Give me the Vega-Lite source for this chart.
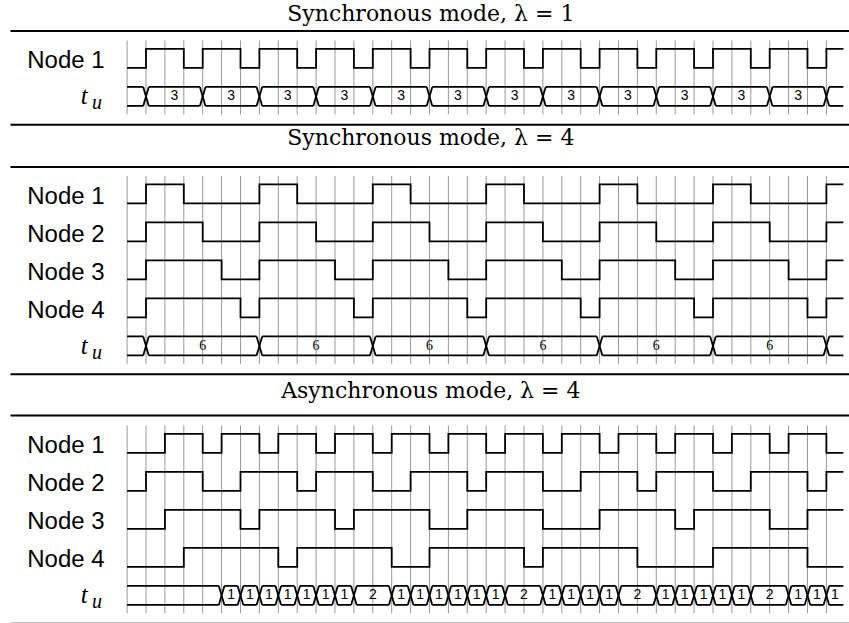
{
  "$schema": "https://vega.github.io/schema/vega-lite/v6.json",
  "padding": {"left": 9.1, "top": 2.4, "right": 0, "bottom": 0},
  "bounds": "flush",
  "spacing": 61.5,
  "config": {"view": {"stroke": null}},
  "datasets": {
    "ticks": [{"t":0},{"t":1},{"t":2},{"t":3},{"t":4},{"t":5},{"t":6},{"t":7},{"t":8},{"t":9},{"t":10},{"t":11},{"t":12},{"t":13},{"t":14},{"t":15},{"t":16},{"t":17},{"t":18},{"t":19},{"t":20},{"t":21},{"t":22},{"t":23},{"t":24},{"t":25},{"t":26},{"t":27},{"t":28},{"t":29},{"t":30},{"t":31},{"t":32},{"t":33},{"t":34},{"t":35},{"t":36},{"t":37}],
    "signals": [
      {"panel":"A","sig":"Node 1","t":0,"v":0},{"panel":"A","sig":"Node 1","t":1,"v":1},{"panel":"A","sig":"Node 1","t":3,"v":0},{"panel":"A","sig":"Node 1","t":4,"v":1},{"panel":"A","sig":"Node 1","t":6,"v":0},{"panel":"A","sig":"Node 1","t":7,"v":1},{"panel":"A","sig":"Node 1","t":9,"v":0},{"panel":"A","sig":"Node 1","t":10,"v":1},{"panel":"A","sig":"Node 1","t":12,"v":0},{"panel":"A","sig":"Node 1","t":13,"v":1},{"panel":"A","sig":"Node 1","t":15,"v":0},{"panel":"A","sig":"Node 1","t":16,"v":1},{"panel":"A","sig":"Node 1","t":18,"v":0},{"panel":"A","sig":"Node 1","t":19,"v":1},{"panel":"A","sig":"Node 1","t":21,"v":0},{"panel":"A","sig":"Node 1","t":22,"v":1},{"panel":"A","sig":"Node 1","t":24,"v":0},{"panel":"A","sig":"Node 1","t":25,"v":1},{"panel":"A","sig":"Node 1","t":27,"v":0},{"panel":"A","sig":"Node 1","t":28,"v":1},{"panel":"A","sig":"Node 1","t":30,"v":0},{"panel":"A","sig":"Node 1","t":31,"v":1},{"panel":"A","sig":"Node 1","t":33,"v":0},{"panel":"A","sig":"Node 1","t":34,"v":1},{"panel":"A","sig":"Node 1","t":36,"v":0},{"panel":"A","sig":"Node 1","t":37,"v":1},{"panel":"A","sig":"Node 1","t":37.9,"v":1},

      {"panel":"B","sig":"Node 1","t":0,"v":0},{"panel":"B","sig":"Node 1","t":1,"v":1},{"panel":"B","sig":"Node 1","t":3,"v":0},{"panel":"B","sig":"Node 1","t":7,"v":1},{"panel":"B","sig":"Node 1","t":9,"v":0},{"panel":"B","sig":"Node 1","t":13,"v":1},{"panel":"B","sig":"Node 1","t":15,"v":0},{"panel":"B","sig":"Node 1","t":19,"v":1},{"panel":"B","sig":"Node 1","t":21,"v":0},{"panel":"B","sig":"Node 1","t":25,"v":1},{"panel":"B","sig":"Node 1","t":27,"v":0},{"panel":"B","sig":"Node 1","t":31,"v":1},{"panel":"B","sig":"Node 1","t":33,"v":0},{"panel":"B","sig":"Node 1","t":37,"v":1},{"panel":"B","sig":"Node 1","t":37.9,"v":1},
      {"panel":"B","sig":"Node 2","t":0,"v":0},{"panel":"B","sig":"Node 2","t":1,"v":1},{"panel":"B","sig":"Node 2","t":4,"v":0},{"panel":"B","sig":"Node 2","t":7,"v":1},{"panel":"B","sig":"Node 2","t":10,"v":0},{"panel":"B","sig":"Node 2","t":13,"v":1},{"panel":"B","sig":"Node 2","t":16,"v":0},{"panel":"B","sig":"Node 2","t":19,"v":1},{"panel":"B","sig":"Node 2","t":22,"v":0},{"panel":"B","sig":"Node 2","t":25,"v":1},{"panel":"B","sig":"Node 2","t":28,"v":0},{"panel":"B","sig":"Node 2","t":31,"v":1},{"panel":"B","sig":"Node 2","t":34,"v":0},{"panel":"B","sig":"Node 2","t":37,"v":1},{"panel":"B","sig":"Node 2","t":37.9,"v":1},
      {"panel":"B","sig":"Node 3","t":0,"v":0},{"panel":"B","sig":"Node 3","t":1,"v":1},{"panel":"B","sig":"Node 3","t":5,"v":0},{"panel":"B","sig":"Node 3","t":7,"v":1},{"panel":"B","sig":"Node 3","t":11,"v":0},{"panel":"B","sig":"Node 3","t":13,"v":1},{"panel":"B","sig":"Node 3","t":17,"v":0},{"panel":"B","sig":"Node 3","t":19,"v":1},{"panel":"B","sig":"Node 3","t":23,"v":0},{"panel":"B","sig":"Node 3","t":25,"v":1},{"panel":"B","sig":"Node 3","t":29,"v":0},{"panel":"B","sig":"Node 3","t":31,"v":1},{"panel":"B","sig":"Node 3","t":35,"v":0},{"panel":"B","sig":"Node 3","t":37,"v":1},{"panel":"B","sig":"Node 3","t":37.9,"v":1},
      {"panel":"B","sig":"Node 4","t":0,"v":0},{"panel":"B","sig":"Node 4","t":1,"v":1},{"panel":"B","sig":"Node 4","t":6,"v":0},{"panel":"B","sig":"Node 4","t":7,"v":1},{"panel":"B","sig":"Node 4","t":12,"v":0},{"panel":"B","sig":"Node 4","t":13,"v":1},{"panel":"B","sig":"Node 4","t":18,"v":0},{"panel":"B","sig":"Node 4","t":19,"v":1},{"panel":"B","sig":"Node 4","t":24,"v":0},{"panel":"B","sig":"Node 4","t":25,"v":1},{"panel":"B","sig":"Node 4","t":30,"v":0},{"panel":"B","sig":"Node 4","t":31,"v":1},{"panel":"B","sig":"Node 4","t":36,"v":0},{"panel":"B","sig":"Node 4","t":37,"v":1},{"panel":"B","sig":"Node 4","t":37.9,"v":1},

      {"panel":"C","sig":"Node 1","t":0,"v":0},{"panel":"C","sig":"Node 1","t":2,"v":1},{"panel":"C","sig":"Node 1","t":4,"v":0},{"panel":"C","sig":"Node 1","t":5,"v":1},{"panel":"C","sig":"Node 1","t":7,"v":0},{"panel":"C","sig":"Node 1","t":8,"v":1},{"panel":"C","sig":"Node 1","t":10,"v":0},{"panel":"C","sig":"Node 1","t":11,"v":1},{"panel":"C","sig":"Node 1","t":13,"v":0},{"panel":"C","sig":"Node 1","t":14,"v":1},{"panel":"C","sig":"Node 1","t":16,"v":0},{"panel":"C","sig":"Node 1","t":17,"v":1},{"panel":"C","sig":"Node 1","t":19,"v":0},{"panel":"C","sig":"Node 1","t":20,"v":1},{"panel":"C","sig":"Node 1","t":22,"v":0},{"panel":"C","sig":"Node 1","t":23,"v":1},{"panel":"C","sig":"Node 1","t":25,"v":0},{"panel":"C","sig":"Node 1","t":26,"v":1},{"panel":"C","sig":"Node 1","t":28,"v":0},{"panel":"C","sig":"Node 1","t":29,"v":1},{"panel":"C","sig":"Node 1","t":31,"v":0},{"panel":"C","sig":"Node 1","t":32,"v":1},{"panel":"C","sig":"Node 1","t":34,"v":0},{"panel":"C","sig":"Node 1","t":35,"v":1},{"panel":"C","sig":"Node 1","t":37,"v":0},{"panel":"C","sig":"Node 1","t":37.9,"v":0},
      {"panel":"C","sig":"Node 2","t":0,"v":0},{"panel":"C","sig":"Node 2","t":1,"v":1},{"panel":"C","sig":"Node 2","t":4,"v":0},{"panel":"C","sig":"Node 2","t":6,"v":1},{"panel":"C","sig":"Node 2","t":9,"v":0},{"panel":"C","sig":"Node 2","t":10,"v":1},{"panel":"C","sig":"Node 2","t":13,"v":0},{"panel":"C","sig":"Node 2","t":15,"v":1},{"panel":"C","sig":"Node 2","t":18,"v":0},{"panel":"C","sig":"Node 2","t":19,"v":1},{"panel":"C","sig":"Node 2","t":22,"v":0},{"panel":"C","sig":"Node 2","t":24,"v":1},{"panel":"C","sig":"Node 2","t":27,"v":0},{"panel":"C","sig":"Node 2","t":28,"v":1},{"panel":"C","sig":"Node 2","t":31,"v":0},{"panel":"C","sig":"Node 2","t":33,"v":1},{"panel":"C","sig":"Node 2","t":36,"v":0},{"panel":"C","sig":"Node 2","t":37,"v":1},{"panel":"C","sig":"Node 2","t":37.9,"v":1},
      {"panel":"C","sig":"Node 3","t":0,"v":0},{"panel":"C","sig":"Node 3","t":2,"v":1},{"panel":"C","sig":"Node 3","t":6,"v":0},{"panel":"C","sig":"Node 3","t":7,"v":1},{"panel":"C","sig":"Node 3","t":11,"v":0},{"panel":"C","sig":"Node 3","t":12,"v":1},{"panel":"C","sig":"Node 3","t":16,"v":0},{"panel":"C","sig":"Node 3","t":18,"v":1},{"panel":"C","sig":"Node 3","t":22,"v":0},{"panel":"C","sig":"Node 3","t":25,"v":1},{"panel":"C","sig":"Node 3","t":29,"v":0},{"panel":"C","sig":"Node 3","t":30,"v":1},{"panel":"C","sig":"Node 3","t":34,"v":0},{"panel":"C","sig":"Node 3","t":36,"v":1},{"panel":"C","sig":"Node 3","t":37.9,"v":1},
      {"panel":"C","sig":"Node 4","t":0,"v":0},{"panel":"C","sig":"Node 4","t":3,"v":1},{"panel":"C","sig":"Node 4","t":8,"v":0},{"panel":"C","sig":"Node 4","t":9,"v":1},{"panel":"C","sig":"Node 4","t":14,"v":0},{"panel":"C","sig":"Node 4","t":16,"v":1},{"panel":"C","sig":"Node 4","t":21,"v":0},{"panel":"C","sig":"Node 4","t":22,"v":1},{"panel":"C","sig":"Node 4","t":27,"v":0},{"panel":"C","sig":"Node 4","t":31,"v":1},{"panel":"C","sig":"Node 4","t":36,"v":0},{"panel":"C","sig":"Node 4","t":37.9,"v":0}
    ],
    "buses": [
      {"panel":"A","a":0,"b":1,"label":""},{"panel":"A","a":1,"b":4,"label":"3"},{"panel":"A","a":4,"b":7,"label":"3"},{"panel":"A","a":7,"b":10,"label":"3"},{"panel":"A","a":10,"b":13,"label":"3"},{"panel":"A","a":13,"b":16,"label":"3"},{"panel":"A","a":16,"b":19,"label":"3"},{"panel":"A","a":19,"b":22,"label":"3"},{"panel":"A","a":22,"b":25,"label":"3"},{"panel":"A","a":25,"b":28,"label":"3"},{"panel":"A","a":28,"b":31,"label":"3"},{"panel":"A","a":31,"b":34,"label":"3"},{"panel":"A","a":34,"b":37,"label":"3"},{"panel":"A","a":37,"b":37.9,"label":""},
      {"panel":"B","a":0,"b":1,"label":""},{"panel":"B","a":1,"b":7,"label":"6"},{"panel":"B","a":7,"b":13,"label":"6"},{"panel":"B","a":13,"b":19,"label":"6"},{"panel":"B","a":19,"b":25,"label":"6"},{"panel":"B","a":25,"b":31,"label":"6"},{"panel":"B","a":31,"b":37,"label":"6"},{"panel":"B","a":37,"b":37.9,"label":""},
      {"panel":"C","a":0,"b":5,"label":""},{"panel":"C","a":5,"b":6,"label":"1"},{"panel":"C","a":6,"b":7,"label":"1"},{"panel":"C","a":7,"b":8,"label":"1"},{"panel":"C","a":8,"b":9,"label":"1"},{"panel":"C","a":9,"b":10,"label":"1"},{"panel":"C","a":10,"b":11,"label":"1"},{"panel":"C","a":11,"b":12,"label":"1"},{"panel":"C","a":12,"b":14,"label":"2"},{"panel":"C","a":14,"b":15,"label":"1"},{"panel":"C","a":15,"b":16,"label":"1"},{"panel":"C","a":16,"b":17,"label":"1"},{"panel":"C","a":17,"b":18,"label":"1"},{"panel":"C","a":18,"b":19,"label":"1"},{"panel":"C","a":19,"b":20,"label":"1"},{"panel":"C","a":20,"b":22,"label":"2"},{"panel":"C","a":22,"b":23,"label":"1"},{"panel":"C","a":23,"b":24,"label":"1"},{"panel":"C","a":24,"b":25,"label":"1"},{"panel":"C","a":25,"b":26,"label":"1"},{"panel":"C","a":26,"b":28,"label":"2"},{"panel":"C","a":28,"b":29,"label":"1"},{"panel":"C","a":29,"b":30,"label":"1"},{"panel":"C","a":30,"b":31,"label":"1"},{"panel":"C","a":31,"b":32,"label":"1"},{"panel":"C","a":32,"b":33,"label":"1"},{"panel":"C","a":33,"b":35,"label":"2"},{"panel":"C","a":35,"b":36,"label":"1"},{"panel":"C","a":36,"b":37,"label":"1"},{"panel":"C","a":37,"b":37.9,"label":"1"}
    ]
  },
  "vconcat": [
    {
      "width": 716.31, "height": 74,
      "layer": [
        {
          "data": {"name": "ticks"},
          "mark": {"type": "rule", "stroke": "#999999", "strokeWidth": 1},
          "encoding": {"x": {"field": "t", "type": "quantitative", "scale": {"domain": [0, 37.9], "nice": false, "zero": false}}}
        },
        {
          "data": {"name": "signals"},
          "transform": [{"filter": "datum.panel == 'A'"}],
          "mark": {"type": "line", "interpolate": "step-after", "stroke": "black", "strokeWidth": 1.8, "yOffset": {"expr": "datum.v == 1 ? -9.5 : 9.5"}},
          "encoding": {
            "x": {"field": "t", "type": "quantitative", "scale": {"domain": [0, 37.9], "nice": false, "zero": false},
                  "axis": {"grid": false, "labels": false, "ticks": false, "domain": false, "title": null}},
            "y": {"field": "sig", "type": "nominal", "scale": {"type": "point", "domain": ["Node 1", "t_u"], "padding": 0.4737},
                  "axis": {"title": null, "domain": false, "ticks": false, "tickSize": 0, "grid": false, "labelPadding": 23, "labelFont": "Liberation Sans", "labelFontSize": 24, "labelColor": "black", "labelAlign": "right", "labelBaseline": "alphabetic", "labelOffset": 9.5, "labelExpr": "datum.value == 't_u' ? '' : datum.value"}},
            "detail": {"field": "sig", "type": "nominal"},
            "order": {"field": "t", "type": "quantitative"}
          }
        },
        {
          "data": {"name": "buses"},
          "transform": [{"filter": "datum.panel == 'A'"}],
          "mark": {"type": "rule", "stroke": "black", "strokeWidth": 1.8, "yOffset": -9.5, "xOffset": {"expr": "datum.a > 0 ? 2.8 : 0"}, "x2Offset": {"expr": "datum.b < 37.9 ? -2.8 : 0"}},
          "encoding": {"x": {"field": "a", "type": "quantitative"}, "x2": {"field": "b"}, "y": {"datum": "t_u", "type": "nominal"}}
        },
        {
          "data": {"name": "buses"},
          "transform": [{"filter": "datum.panel == 'A'"}],
          "mark": {"type": "rule", "stroke": "black", "strokeWidth": 1.8, "yOffset": 9.5, "xOffset": {"expr": "datum.a > 0 ? 2.8 : 0"}, "x2Offset": {"expr": "datum.b < 37.9 ? -2.8 : 0"}},
          "encoding": {"x": {"field": "a", "type": "quantitative"}, "x2": {"field": "b"}, "y": {"datum": "t_u", "type": "nominal"}}
        },
        {
          "data": {"name": "buses"},
          "transform": [{"filter": "datum.panel == 'A' && datum.a > 0"}],
          "mark": {"type": "rule", "stroke": "black", "strokeWidth": 1.8, "xOffset": -2.8, "x2Offset": 2.8, "yOffset": -9.5, "y2Offset": 9.5},
          "encoding": {"x": {"field": "a", "type": "quantitative"}, "x2": {"field": "a"}, "y": {"datum": "t_u", "type": "nominal"}, "y2": {"datum": "t_u"}}
        },
        {
          "data": {"name": "buses"},
          "transform": [{"filter": "datum.panel == 'A' && datum.a > 0"}],
          "mark": {"type": "rule", "stroke": "black", "strokeWidth": 1.8, "xOffset": -2.8, "x2Offset": 2.8, "yOffset": 9.5, "y2Offset": -9.5},
          "encoding": {"x": {"field": "a", "type": "quantitative"}, "x2": {"field": "a"}, "y": {"datum": "t_u", "type": "nominal"}, "y2": {"datum": "t_u"}}
        },
        {
          "data": {"name": "buses"},
          "transform": [{"filter": "datum.panel == 'A'"}, {"calculate": "(datum.a + datum.b) / 2", "as": "mid"}],
          "mark": {"type": "text", "font": "Liberation Sans", "fontSize": 14, "color": "black", "baseline": "middle", "align": "center"},
          "encoding": {"x": {"field": "mid", "type": "quantitative"}, "y": {"datum": "t_u", "type": "nominal"}, "text": {"field": "label"}}
        },
        {
          "data": {"values": [{}]},
          "mark": {"type": "text", "text": "t", "font": "Liberation Serif", "fontStyle": "italic", "fontSize": 25, "color": "black", "align": "right", "baseline": "alphabetic", "dx": -39.5, "dy": 8},
          "encoding": {"x": {"datum": 0, "type": "quantitative"}, "y": {"datum": "t_u", "type": "nominal"}}
        },
        {
          "data": {"values": [{}]},
          "mark": {"type": "text", "text": "u", "font": "Liberation Serif", "fontStyle": "italic", "fontSize": 20, "color": "black", "align": "left", "baseline": "alphabetic", "dx": -35, "dy": 13},
          "encoding": {"x": {"datum": 0, "type": "quantitative"}, "y": {"datum": "t_u", "type": "nominal"}}
        },
        {
          "data": {"values": [{}]},
          "mark": {"type": "text", "text": "Synchronous mode, λ = 1", "font": "DejaVu Serif", "fontSize": 22, "color": "black", "align": "center", "baseline": "alphabetic", "dy": -37.5},
          "encoding": {"x": {"datum": 16.07, "type": "quantitative"}, "y": {"datum": "Node 1", "type": "nominal"}}
        },
        {
          "data": {"values": [{}]},
          "mark": {"type": "rule", "stroke": "black", "strokeWidth": 2, "yOffset": -27.5},
          "encoding": {"x": {"datum": -6.17, "type": "quantitative"}, "x2": {"datum": 38.3}, "y": {"datum": "Node 1", "type": "nominal"}}
        },
        {
          "data": {"values": [{}]},
          "mark": {"type": "rule", "stroke": "black", "strokeWidth": 2, "yOffset": 28.3},
          "encoding": {"x": {"datum": -6.17, "type": "quantitative"}, "x2": {"datum": 38.3}, "y": {"datum": "t_u", "type": "nominal"}}
        }
      ]
    },
    {
      "width": 716.31, "height": 188,
      "layer": [
        {
          "data": {"name": "ticks"},
          "mark": {"type": "rule", "stroke": "#999999", "strokeWidth": 1},
          "encoding": {"x": {"field": "t", "type": "quantitative", "scale": {"domain": [0, 37.9], "nice": false, "zero": false}}}
        },
        {
          "data": {"name": "signals"},
          "transform": [{"filter": "datum.panel == 'B'"}],
          "mark": {"type": "line", "interpolate": "step-after", "stroke": "black", "strokeWidth": 1.8, "yOffset": {"expr": "datum.v == 1 ? -9.5 : 9.5"}},
          "encoding": {
            "x": {"field": "t", "type": "quantitative", "scale": {"domain": [0, 37.9], "nice": false, "zero": false},
                  "axis": {"grid": false, "labels": false, "ticks": false, "domain": false, "title": null}},
            "y": {"field": "sig", "type": "nominal", "scale": {"type": "point", "domain": ["Node 1", "Node 2", "Node 3", "Node 4", "t_u"], "padding": 0.4737},
                  "axis": {"title": null, "domain": false, "ticks": false, "tickSize": 0, "grid": false, "labelPadding": 23, "labelFont": "Liberation Sans", "labelFontSize": 24, "labelColor": "black", "labelAlign": "right", "labelBaseline": "alphabetic", "labelOffset": 9.5, "labelExpr": "datum.value == 't_u' ? '' : datum.value"}},
            "detail": {"field": "sig", "type": "nominal"},
            "order": {"field": "t", "type": "quantitative"}
          }
        },
        {
          "data": {"name": "buses"},
          "transform": [{"filter": "datum.panel == 'B'"}],
          "mark": {"type": "rule", "stroke": "black", "strokeWidth": 1.8, "yOffset": -9.5, "xOffset": {"expr": "datum.a > 0 ? 2.8 : 0"}, "x2Offset": {"expr": "datum.b < 37.9 ? -2.8 : 0"}},
          "encoding": {"x": {"field": "a", "type": "quantitative"}, "x2": {"field": "b"}, "y": {"datum": "t_u", "type": "nominal"}}
        },
        {
          "data": {"name": "buses"},
          "transform": [{"filter": "datum.panel == 'B'"}],
          "mark": {"type": "rule", "stroke": "black", "strokeWidth": 1.8, "yOffset": 9.5, "xOffset": {"expr": "datum.a > 0 ? 2.8 : 0"}, "x2Offset": {"expr": "datum.b < 37.9 ? -2.8 : 0"}},
          "encoding": {"x": {"field": "a", "type": "quantitative"}, "x2": {"field": "b"}, "y": {"datum": "t_u", "type": "nominal"}}
        },
        {
          "data": {"name": "buses"},
          "transform": [{"filter": "datum.panel == 'B' && datum.a > 0"}],
          "mark": {"type": "rule", "stroke": "black", "strokeWidth": 1.8, "xOffset": -2.8, "x2Offset": 2.8, "yOffset": -9.5, "y2Offset": 9.5},
          "encoding": {"x": {"field": "a", "type": "quantitative"}, "x2": {"field": "a"}, "y": {"datum": "t_u", "type": "nominal"}, "y2": {"datum": "t_u"}}
        },
        {
          "data": {"name": "buses"},
          "transform": [{"filter": "datum.panel == 'B' && datum.a > 0"}],
          "mark": {"type": "rule", "stroke": "black", "strokeWidth": 1.8, "xOffset": -2.8, "x2Offset": 2.8, "yOffset": 9.5, "y2Offset": -9.5},
          "encoding": {"x": {"field": "a", "type": "quantitative"}, "x2": {"field": "a"}, "y": {"datum": "t_u", "type": "nominal"}, "y2": {"datum": "t_u"}}
        },
        {
          "data": {"name": "buses"},
          "transform": [{"filter": "datum.panel == 'B'"}, {"calculate": "(datum.a + datum.b) / 2", "as": "mid"}],
          "mark": {"type": "text", "font": "Liberation Serif", "fontSize": 14, "color": "black", "baseline": "middle", "align": "center"},
          "encoding": {"x": {"field": "mid", "type": "quantitative"}, "y": {"datum": "t_u", "type": "nominal"}, "text": {"field": "label"}}
        },
        {
          "data": {"values": [{}]},
          "mark": {"type": "text", "text": "t", "font": "Liberation Serif", "fontStyle": "italic", "fontSize": 25, "color": "black", "align": "right", "baseline": "alphabetic", "dx": -39.5, "dy": 8},
          "encoding": {"x": {"datum": 0, "type": "quantitative"}, "y": {"datum": "t_u", "type": "nominal"}}
        },
        {
          "data": {"values": [{}]},
          "mark": {"type": "text", "text": "u", "font": "Liberation Serif", "fontStyle": "italic", "fontSize": 20, "color": "black", "align": "left", "baseline": "alphabetic", "dx": -35, "dy": 13},
          "encoding": {"x": {"datum": 0, "type": "quantitative"}, "y": {"datum": "t_u", "type": "nominal"}}
        },
        {
          "data": {"values": [{}]},
          "mark": {"type": "text", "text": "Synchronous mode, λ = 4", "font": "DejaVu Serif", "fontSize": 22, "color": "black", "align": "center", "baseline": "alphabetic", "dy": -49},
          "encoding": {"x": {"datum": 16.07, "type": "quantitative"}, "y": {"datum": "Node 1", "type": "nominal"}}
        },
        {
          "data": {"values": [{}]},
          "mark": {"type": "rule", "stroke": "black", "strokeWidth": 2, "yOffset": -27},
          "encoding": {"x": {"datum": -6.17, "type": "quantitative"}, "x2": {"datum": 38.3}, "y": {"datum": "Node 1", "type": "nominal"}}
        },
        {
          "data": {"values": [{}]},
          "mark": {"type": "rule", "stroke": "black", "strokeWidth": 2, "yOffset": 28.3},
          "encoding": {"x": {"datum": -6.17, "type": "quantitative"}, "x2": {"datum": 38.3}, "y": {"datum": "t_u", "type": "nominal"}}
        }
      ]
    },
    {
      "width": 716.31, "height": 188,
      "layer": [
        {
          "data": {"name": "ticks"},
          "mark": {"type": "rule", "stroke": "#999999", "strokeWidth": 1},
          "encoding": {"x": {"field": "t", "type": "quantitative", "scale": {"domain": [0, 37.9], "nice": false, "zero": false}}}
        },
        {
          "data": {"name": "signals"},
          "transform": [{"filter": "datum.panel == 'C'"}],
          "mark": {"type": "line", "interpolate": "step-after", "stroke": "black", "strokeWidth": 1.8, "yOffset": {"expr": "datum.v == 1 ? -9.5 : 9.5"}},
          "encoding": {
            "x": {"field": "t", "type": "quantitative", "scale": {"domain": [0, 37.9], "nice": false, "zero": false},
                  "axis": {"grid": false, "labels": false, "ticks": false, "domain": false, "title": null}},
            "y": {"field": "sig", "type": "nominal", "scale": {"type": "point", "domain": ["Node 1", "Node 2", "Node 3", "Node 4", "t_u"], "padding": 0.4737},
                  "axis": {"title": null, "domain": false, "ticks": false, "tickSize": 0, "grid": false, "labelPadding": 23, "labelFont": "Liberation Sans", "labelFontSize": 24, "labelColor": "black", "labelAlign": "right", "labelBaseline": "alphabetic", "labelOffset": 9.5, "labelExpr": "datum.value == 't_u' ? '' : datum.value"}},
            "detail": {"field": "sig", "type": "nominal"},
            "order": {"field": "t", "type": "quantitative"}
          }
        },
        {
          "data": {"name": "buses"},
          "transform": [{"filter": "datum.panel == 'C'"}],
          "mark": {"type": "rule", "stroke": "black", "strokeWidth": 1.8, "yOffset": -9.5, "xOffset": {"expr": "datum.a > 0 ? 2.8 : 0"}, "x2Offset": {"expr": "datum.b < 37.9 ? -2.8 : 0"}},
          "encoding": {"x": {"field": "a", "type": "quantitative"}, "x2": {"field": "b"}, "y": {"datum": "t_u", "type": "nominal"}}
        },
        {
          "data": {"name": "buses"},
          "transform": [{"filter": "datum.panel == 'C'"}],
          "mark": {"type": "rule", "stroke": "black", "strokeWidth": 1.8, "yOffset": 9.5, "xOffset": {"expr": "datum.a > 0 ? 2.8 : 0"}, "x2Offset": {"expr": "datum.b < 37.9 ? -2.8 : 0"}},
          "encoding": {"x": {"field": "a", "type": "quantitative"}, "x2": {"field": "b"}, "y": {"datum": "t_u", "type": "nominal"}}
        },
        {
          "data": {"name": "buses"},
          "transform": [{"filter": "datum.panel == 'C' && datum.a > 0"}],
          "mark": {"type": "rule", "stroke": "black", "strokeWidth": 1.8, "xOffset": -2.8, "x2Offset": 2.8, "yOffset": -9.5, "y2Offset": 9.5},
          "encoding": {"x": {"field": "a", "type": "quantitative"}, "x2": {"field": "a"}, "y": {"datum": "t_u", "type": "nominal"}, "y2": {"datum": "t_u"}}
        },
        {
          "data": {"name": "buses"},
          "transform": [{"filter": "datum.panel == 'C' && datum.a > 0"}],
          "mark": {"type": "rule", "stroke": "black", "strokeWidth": 1.8, "xOffset": -2.8, "x2Offset": 2.8, "yOffset": 9.5, "y2Offset": -9.5},
          "encoding": {"x": {"field": "a", "type": "quantitative"}, "x2": {"field": "a"}, "y": {"datum": "t_u", "type": "nominal"}, "y2": {"datum": "t_u"}}
        },
        {
          "data": {"name": "buses"},
          "transform": [{"filter": "datum.panel == 'C'"}, {"calculate": "(datum.a + datum.b) / 2", "as": "mid"}],
          "mark": {"type": "text", "font": "Liberation Sans", "fontSize": 14, "color": "black", "baseline": "middle", "align": "center"},
          "encoding": {"x": {"field": "mid", "type": "quantitative"}, "y": {"datum": "t_u", "type": "nominal"}, "text": {"field": "label"}}
        },
        {
          "data": {"values": [{}]},
          "mark": {"type": "text", "text": "t", "font": "Liberation Serif", "fontStyle": "italic", "fontSize": 25, "color": "black", "align": "right", "baseline": "alphabetic", "dx": -39.5, "dy": 8},
          "encoding": {"x": {"datum": 0, "type": "quantitative"}, "y": {"datum": "t_u", "type": "nominal"}}
        },
        {
          "data": {"values": [{}]},
          "mark": {"type": "text", "text": "u", "font": "Liberation Serif", "fontStyle": "italic", "fontSize": 20, "color": "black", "align": "left", "baseline": "alphabetic", "dx": -35, "dy": 13},
          "encoding": {"x": {"datum": 0, "type": "quantitative"}, "y": {"datum": "t_u", "type": "nominal"}}
        },
        {
          "data": {"values": [{}]},
          "mark": {"type": "text", "text": "Asynchronous mode, λ = 4", "font": "DejaVu Serif", "fontSize": 22, "color": "black", "align": "center", "baseline": "alphabetic", "dy": -45},
          "encoding": {"x": {"datum": 16.07, "type": "quantitative"}, "y": {"datum": "Node 1", "type": "nominal"}}
        },
        {
          "data": {"values": [{}]},
          "mark": {"type": "rule", "stroke": "black", "strokeWidth": 2, "yOffset": -28},
          "encoding": {"x": {"datum": -6.17, "type": "quantitative"}, "x2": {"datum": 38.3}, "y": {"datum": "Node 1", "type": "nominal"}}
        },
        {
          "data": {"values": [{}]},
          "mark": {"type": "rule", "stroke": "black", "strokeWidth": 2, "yOffset": 28.3},
          "encoding": {"x": {"datum": -6.17, "type": "quantitative"}, "x2": {"datum": 38.3}, "y": {"datum": "t_u", "type": "nominal"}}
        }
      ]
    }
  ]
}
